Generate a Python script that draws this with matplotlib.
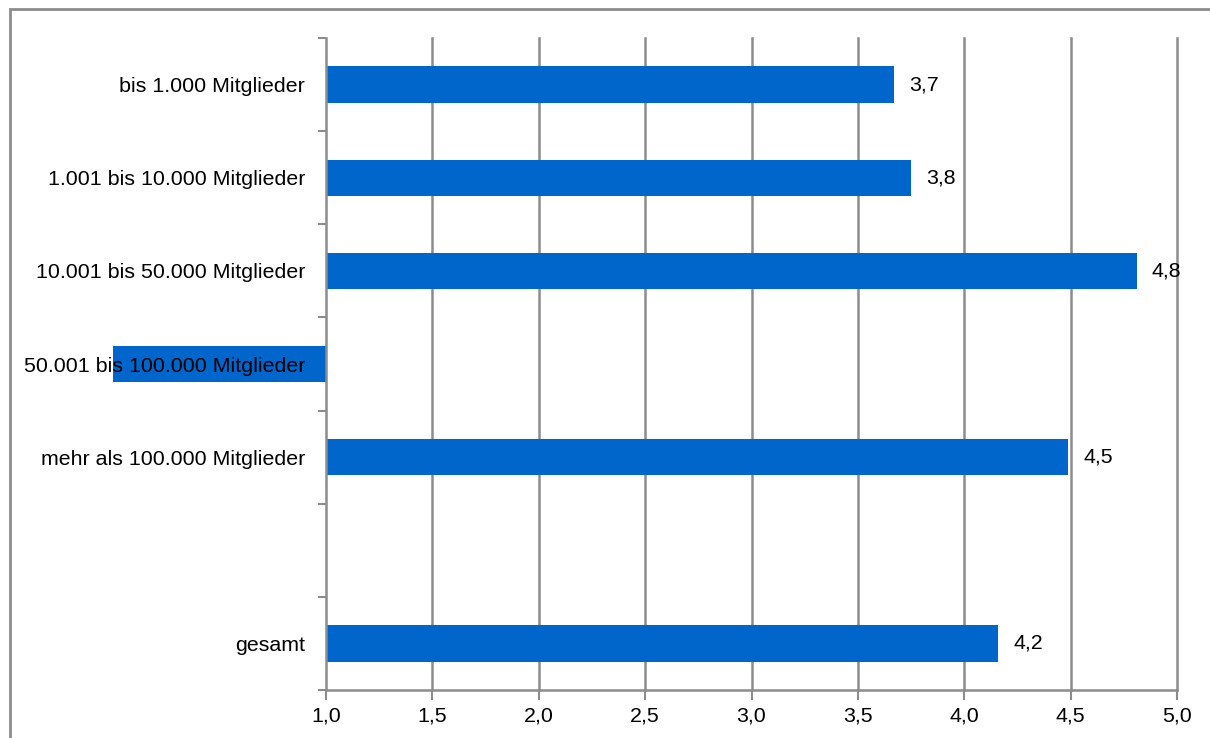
import numpy as np
import matplotlib.pyplot as plt
from matplotlib.patches import Rectangle

plt.rcParams['font.family'] = ['Liberation Sans', 'DejaVu Sans']

categories = ['bis 1.000 Mitglieder', '1.001 bis 10.000 Mitglieder',
              '10.001 bis 50.000 Mitglieder', '50.001 bis 100.000 Mitglieder',
              'mehr als 100.000 Mitglieder', '', 'gesamt']
values = [3.67, 3.75, 4.81, 0.0, 4.49, np.nan, 4.16]
show_label = [True, True, True, False, True, False, True]
x_ticks = [1.0, 1.5, 2.0, 2.5, 3.0, 3.5, 4.0, 4.5, 5.0]

base = 1.0
blue = '#0066cc'
grey = '#8c8c8c'
fs = 15.4

fig = plt.figure(figsize=(12.1, 7.38), dpi=100)
ax = fig.add_axes([326 / 1210, 1 - 690 / 738, (1177 - 326) / 1210, (690 - 38) / 738])

# outer chart frame
fig.patches.append(Rectangle((10 / 1210, -0.05), 1.2, 1 - 9 / 738 + 0.05,
                             transform=fig.transFigure, fill=False,
                             edgecolor=grey, linewidth=2))

# vertical gridlines behind the bars
for t in x_ticks[1:]:
    ax.axvline(t, color=grey, linewidth=1.8, zorder=0, clip_on=False)

y = np.arange(len(categories))
for yi, v, show in zip(y, values, show_label):
    if np.isnan(v):
        continue
    ax.barh(yi, v - base, left=base, height=0.39, color=blue, zorder=1, clip_on=False)
    if show:
        ax.text(v + 0.07, yi, f'{v:.1f}'.replace('.', ','), va='center', ha='left',
                fontsize=fs, zorder=4)

ax.set_xlim(1.0, 5.0)
ax.set_ylim(len(categories) - 0.5, -0.5)

ax.set_xticks(x_ticks)
ax.set_xticklabels([f'{t:.1f}'.replace('.', ',') for t in x_ticks], fontsize=fs)
ax.set_yticks(y)
ax.set_yticklabels(categories, fontsize=fs)
ax.set_yticks(np.arange(-0.5, len(categories)), minor=True)

ax.tick_params(axis='y', which='major', length=0, pad=15)
ax.tick_params(axis='y', which='minor', length=6, width=1.5, color=grey)
ax.tick_params(axis='x', length=7, width=1.5, color=grey, pad=5)

for side in ['top', 'right']:
    ax.spines[side].set_visible(False)
for side in ['left', 'bottom']:
    ax.spines[side].set_color(grey)
    ax.spines[side].set_linewidth(1.8)

fig.savefig('out.png', dpi=100)
